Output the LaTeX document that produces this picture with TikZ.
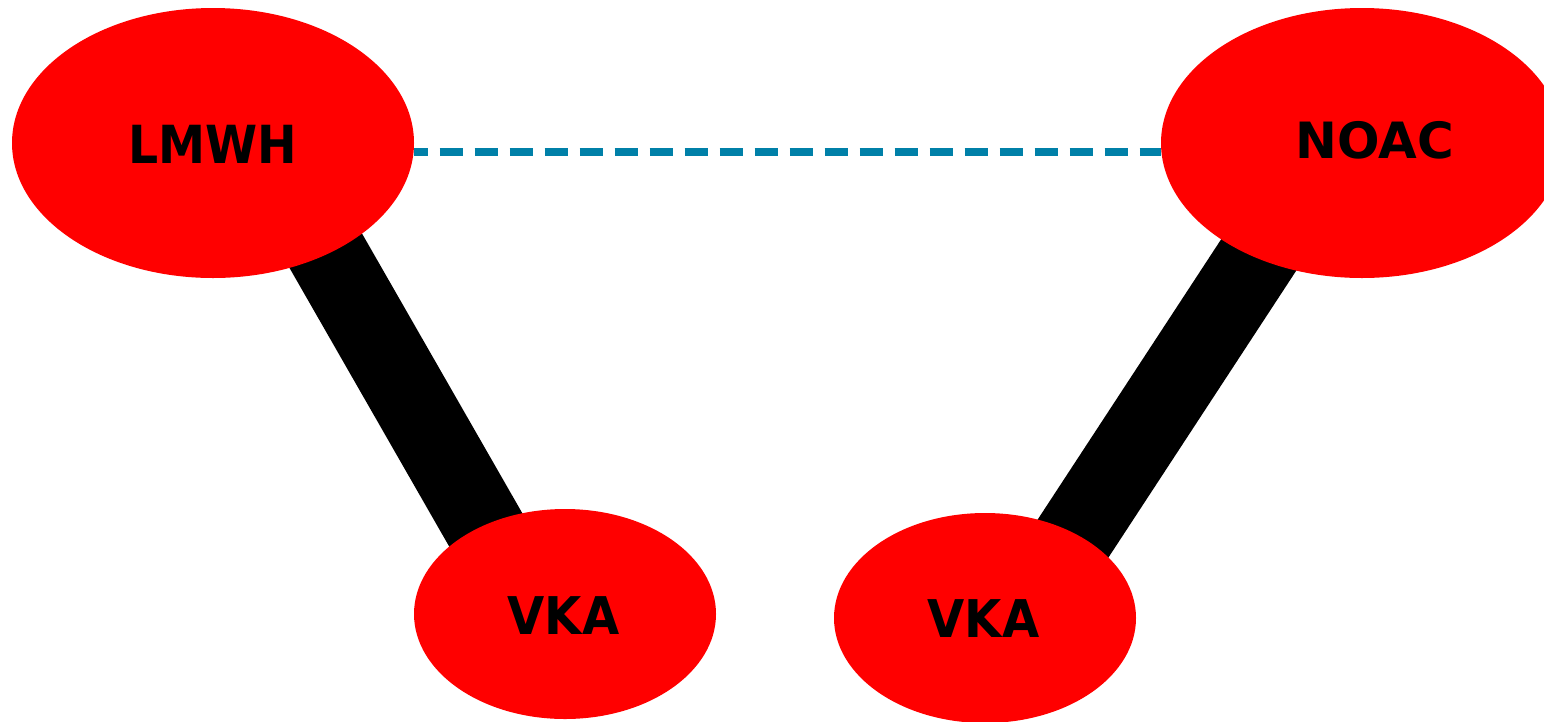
\documentclass[tikz,border=0pt]{standalone}
\usepackage{fontspec}
\newfontfamily\lmwhfont{DejaVu Sans}[FakeStretch=0.9]
\newfontfamily\vkafont{DejaVu Sans}[FakeStretch=0.925]
\newfontfamily\noacfont{DejaVu Sans}
\usetikzlibrary{shapes.geometric,backgrounds,calc}
\definecolor{nodered}{RGB}{255,0,0}
\definecolor{linkteal}{RGB}{0,128,168}
\tikzset{
  drug/.style={ellipse, fill=nodered, inner sep=0pt},
  bigdrug/.style={drug, minimum width=402pt, minimum height=270pt},
  smalldrug/.style={drug, minimum width=302pt, minimum height=210pt},
  tag/.style={text=black, inner sep=0pt},
  strong/.style={line width=80pt, black},
  weak/.style={line width=8pt, linkteal, dash pattern=on 23.5pt off 11.5pt}
}
\begin{document}
\begin{tikzpicture}[x=1pt, y=-1pt]
  \useasboundingbox (0,0) rectangle (1544,721);
  \clip (0,0) rectangle (1544,721);

  \node[bigdrug, label={[tag, font=\lmwhfont\bfseries\fontsize{52.5}{60}\selectfont, yshift=-1.5pt]center:LMWH}] (lmwh) at (213,143) {};
  \node[bigdrug, label={[tag, font=\noacfont\bfseries\fontsize{50}{60}\selectfont, xshift=12.5pt, yshift=3pt]center:NOAC}] (noac) at (1362,143) {};
  \node[smalldrug, label={[tag, font=\vkafont\bfseries\fontsize{52}{60}\selectfont, xshift=-1.5pt, yshift=-2pt]center:VKA}] (vkaA) at (565,614) {};
  \node[smalldrug, label={[tag, font=\vkafont\bfseries\fontsize{52}{60}\selectfont, xshift=-1.5pt, yshift=-1pt]center:VKA}] (vkaB) at (985,618) {};

  \begin{pgfonlayer}{background}
    \fill[white] (0,0) rectangle (1544,721);
    \coordinate (lmwhS) at ($(lmwh)+(51,0)$);
    \coordinate (vkaAS) at ($(vkaA)+(-31,0)$);
    \coordinate (noacS) at ($(noac)+(-30,0)$);
    \coordinate (vkaBS) at ($(vkaB)+(36,0)$);
    \coordinate (lmwhE) at ($(lmwh.east)+(0,9)$);
    \coordinate (noacW) at ($(noac.west)+(0,9)$);
    \draw[strong] (lmwhS) -- (vkaAS);
    \draw[strong] (noacS) -- (vkaBS);
    \draw[weak, dash phase=9.7pt] (lmwhE) -- (noacW);
  \end{pgfonlayer}
\end{tikzpicture}
\end{document}
